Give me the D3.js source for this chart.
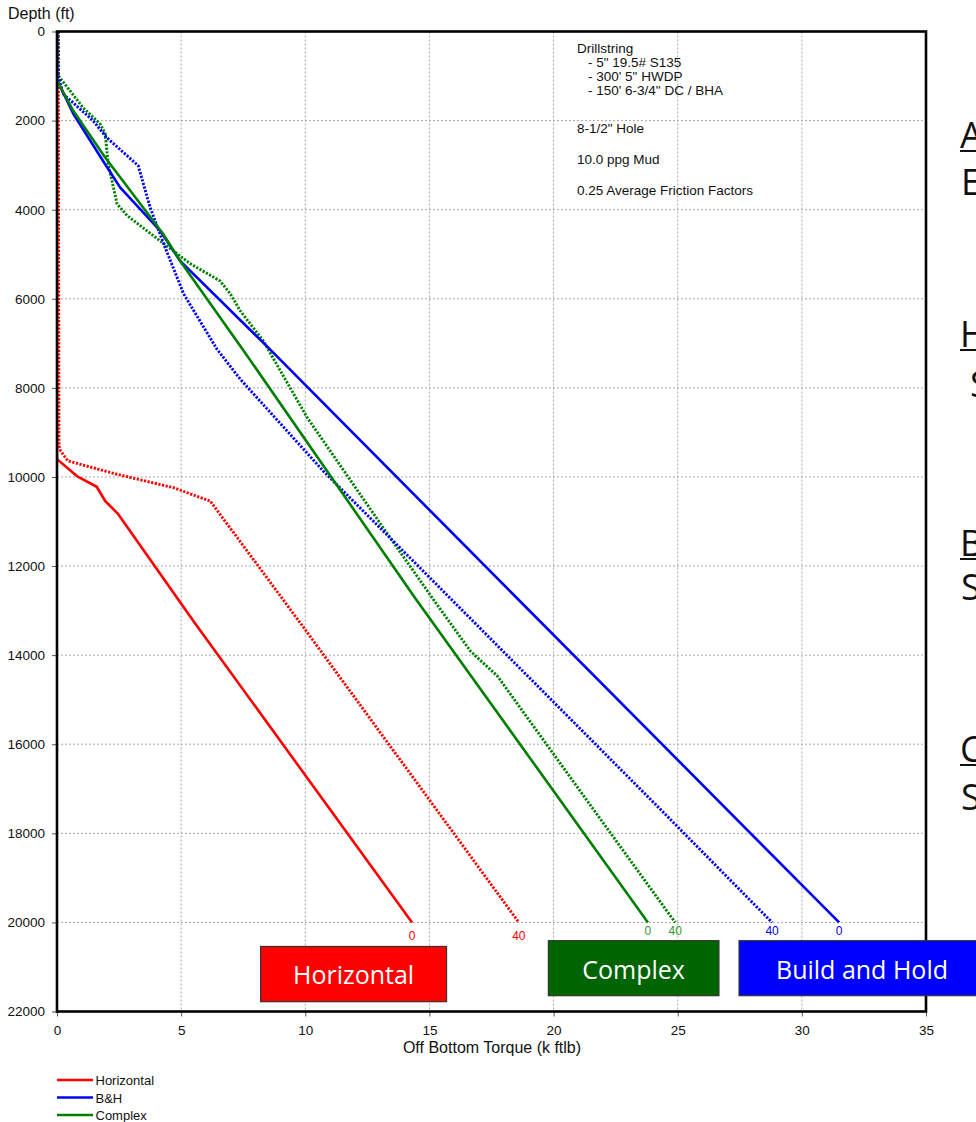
<!DOCTYPE html>
<html>
<head>
<meta charset="utf-8">
<script src="https://cdn.jsdelivr.net/npm/d3@7/dist/d3.min.js"></script>
<style>
  html, body { margin: 0; padding: 0; background: #fff; overflow: hidden; }
  svg { display: block; }
</style>
</head>
<body>
<svg id="chart" width="976" height="1122"></svg>
<script>
// ---------- DATA ----------
const xTickValues = [0, 5, 10, 15, 20, 25, 30, 35];
const yTickValues = [0, 2000, 4000, 6000, 8000, 10000, 12000, 14000, 16000, 18000, 20000, 22000];

// Horizontal well
const horizSolidDepth  = [0, 9600, 9980, 10220, 10540, 10830, 13240, 20000];
const horizSolidTorque = [0, 0, 0.8, 1.6, 1.94, 2.46, 5.5, 14.3];
const horizDotDepth    = [0, 9300, 9420, 9640, 9940, 10240, 10540, 13240, 20000];
const horizDotTorque   = [0.05, 0.08, 0.15, 0.44, 2.42, 4.68, 6.17, 9.75, 18.6];

// Build and Hold well
const bhSolidDepth  = [0, 1100, 1200, 1840, 2900, 3500, 4470, 5150, 7120, 12790, 20000];
const bhSolidTorque = [0, 0, 0.1, 0.65, 1.85, 2.54, 4.15, 4.96, 8.55, 18.65, 31.5];
const bhDotDepth    = [0, 1000, 1400, 2000, 2380, 3010, 3950, 4770, 5890, 7130, 7805, 9870, 11890, 17460, 20000];
const bhDotTorque   = [0.03, 0.05, 0.25, 1.45, 2.0, 3.27, 3.75, 4.3, 5.1, 6.44, 7.38, 10.73, 14.35, 24.3, 28.8];

// Complex well
const cxSolidDepth  = [0, 1100, 1775, 2830, 4540, 5150, 7120, 12740, 20000];
const cxSolidTorque = [0, 0, 0.65, 1.94, 4.27, 4.96, 7.46, 14.45, 23.8];
const cxDotDepth    = [0, 990, 1710, 2070, 2290, 2970, 3870, 4130, 4700, 4990, 5210, 5600, 5890, 6270, 6940, 8670, 11150, 12720, 13910, 14470, 17460, 20000];
const cxDotTorque   = [0.05, 0.05, 1.05, 1.73, 1.94, 2.06, 2.42, 2.82, 4.15, 4.84, 5.36, 6.57, 6.98, 7.38, 8.3, 10.08, 13.15, 15.12, 16.65, 17.74, 21.6, 24.9];

// End labels (friction label at end of each curve)
const endLabels = ["0", "40", "0", "40", "40", "0"];

const legendNames = ["Horizontal", "B&H", "Complex"];

const noteLines = ["Drillstring", "  - 5\" 19.5# S135", "  - 300' 5\" HWDP", "  - 150' 6-3/4\" DC / BHA",
                   "8-1/2\" Hole", "10.0 ppg Mud", "0.25 Average Friction Factors"];

const boxLabels = ["Horizontal", "Complex", "Build and Hold"];

const sideTitles = ["A", "H", "B", "C"];
const sideSecond = ["E", " S", "S", "S"];

// ---------- SETUP ----------
const svg = d3.select("#chart");
const L = 57, R = 926, T = 31.5, B = 1011.5;
const x = d3.scaleLinear().domain([0, 35]).range([L, R]);
const y = d3.scaleLinear().domain([0, 22000]).range([T, B]);

const RED = "#ff0000", BLUE = "#0000ff", GREEN = "#008000";
const chartFont = "'Liberation Sans', Arial, sans-serif";
const slideFont = "'Open Sans', 'Noto Sans', sans-serif";

svg.append("defs").append("clipPath").attr("id", "plotclip")
  .append("rect").attr("x", L).attr("y", T).attr("width", R - L).attr("height", B - T);

// grid
const grid = svg.append("g");
grid.selectAll("line.vg").data(xTickValues.filter(d => d > 0 && d < 35)).enter()
  .append("line").attr("x1", d => x(d)).attr("x2", d => x(d)).attr("y1", T).attr("y2", B)
  .attr("stroke", "#a8a8a8").attr("stroke-width", 1).attr("stroke-dasharray", "2,2");
grid.selectAll("line.hg").data(yTickValues.filter(d => d > 0 && d < 22000)).enter()
  .append("line").attr("x1", L).attr("x2", R).attr("y1", d => y(d)).attr("y2", d => y(d))
  .attr("stroke", "#a8a8a8").attr("stroke-width", 1).attr("stroke-dasharray", "2,2");

// annotation text
const noteX = 577;
const noteIndent = [0, 11, 11, 11, 0, 0, 0];
const noteBase = [53, 67, 81, 95, 133, 164, 195];
svg.append("g").selectAll("text").data(noteLines).enter().append("text")
  .attr("x", (d, i) => noteX + noteIndent[i]).attr("y", (d, i) => noteBase[i])
  .attr("font-family", chartFont).attr("font-size", 13.5).attr("fill", "#111")
  .text(d => d.trim());

// axes
const yAxis = d3.axisLeft(y).tickValues(yTickValues).tickSize(5).tickPadding(7).tickFormat(d3.format("d"));
const gy = svg.append("g").attr("transform", `translate(${L},0)`).call(yAxis);
gy.select(".domain").remove();
gy.selectAll(".tick line").attr("stroke", "#555");
gy.selectAll(".tick text").attr("font-family", chartFont).attr("font-size", 13.5).attr("fill", "#111");

const xAxis = d3.axisBottom(x).tickValues(xTickValues).tickSize(5).tickPadding(9).tickFormat(d3.format("d"));
const gx = svg.append("g").attr("transform", `translate(0,${B})`).call(xAxis);
gx.select(".domain").remove();
gx.selectAll(".tick line").attr("stroke", "#555");
gx.selectAll(".tick text").attr("font-family", chartFont).attr("font-size", 13.5).attr("fill", "#111");

svg.append("text").attr("x", 8).attr("y", 19).attr("font-family", chartFont).attr("font-size", 16)
  .attr("fill", "#111").text("Depth (ft)");
svg.append("text").attr("x", 492).attr("y", 1053).attr("text-anchor", "middle").attr("font-family", chartFont)
  .attr("font-size", 16).attr("fill", "#111").text("Off Bottom Torque (k ftlb)");

// series
const series = [
  { depth: horizSolidDepth, torque: horizSolidTorque, color: RED, dotted: false, lab: endLabels[0], ldy: 14 },
  { depth: horizDotDepth,   torque: horizDotTorque,   color: RED, dotted: true,  lab: endLabels[1], ldy: 14 },
  { depth: cxSolidDepth,    torque: cxSolidTorque,    color: GREEN, dotted: false, lab: endLabels[2], ldy: 8.5, lc: "#2e9a2e" },
  { depth: cxDotDepth,      torque: cxDotTorque,      color: GREEN, dotted: true,  lab: endLabels[3], ldy: 8.5, lc: "#2e9a2e" },
  { depth: bhDotDepth,      torque: bhDotTorque,      color: BLUE, dotted: true,  lab: endLabels[4], ldy: 8.5 },
  { depth: bhSolidDepth,    torque: bhSolidTorque,    color: BLUE, dotted: false, lab: endLabels[5], ldy: 8.5 }
];
const line = d3.line().x(d => x(d[1])).y(d => y(d[0]));
const plot = svg.append("g").attr("clip-path", "url(#plotclip)");
// draw dotted first, solids over
const order = [1, 3, 4, 0, 5, 2];
order.forEach(i => {
  const s = series[i];
  const pts = s.depth.map((d, k) => [d, s.torque[k]]);
  plot.append("path").attr("d", line(pts)).attr("fill", "none")
    .attr("stroke", s.color).attr("stroke-width", s.dotted ? 2.9 : 2.6)
    .attr("stroke-dasharray", s.dotted ? "2.2,1.5" : null)
    .attr("stroke-linejoin", "round");
});
series.forEach(s => {
  const n = s.depth.length - 1;
  svg.append("text").attr("x", x(s.torque[n])).attr("y", y(s.depth[n]) + s.ldy + 4)
    .attr("text-anchor", "middle").attr("font-family", chartFont).attr("font-size", 12)
    .attr("fill", s.lc || s.color).text(s.lab);
});

// frame
svg.append("rect").attr("x", L).attr("y", T).attr("width", R - L).attr("height", B - T)
  .attr("fill", "none").attr("stroke", "#000").attr("stroke-width", 2.6);

// legend
const legColors = [RED, BLUE, GREEN];
const lg = svg.append("g");
legendNames.forEach((nm, i) => {
  const ly = 1080 + i * 17.5;
  lg.append("line").attr("x1", 57).attr("x2", 93).attr("y1", ly).attr("y2", ly)
    .attr("stroke", legColors[i]).attr("stroke-width", 2.6);
  lg.append("text").attr("x", 95.5).attr("y", ly + 5).attr("font-family", chartFont)
    .attr("font-size", 13).attr("fill", "#111").text(nm);
});

// coloured label boxes (placed in data units)
const boxes = [
  { t: boxLabels[0], x0: 8.2,   x1: 15.69, d0: 20540, d1: 21780, fill: "#ff0000", base: 984 },
  { t: boxLabels[1], x0: 19.79, x1: 26.66, d0: 20410, d1: 21645, fill: "#006400", base: 978.5 },
  { t: boxLabels[2], x0: 27.47, x1: 37.6,  d0: 20410, d1: 21645, fill: "#0000ff", base: 978.5 }
];
boxes.forEach((b, i) => {
  svg.append("rect").attr("x", x(b.x0)).attr("y", y(b.d0)).attr("width", x(b.x1) - x(b.x0))
    .attr("height", y(b.d1) - y(b.d0)).attr("fill", b.fill).attr("stroke", "#333").attr("stroke-width", 1.2);
  const cx = i === 2 ? 862 : (x(b.x0) + x(b.x1)) / 2;
  svg.append("text").attr("x", cx).attr("y", b.base).attr("text-anchor", "middle")
    .attr("font-family", slideFont).attr("font-size", 25).attr("fill", "#fff").text(b.t);
});

// side text fragments (cut off slide text)
const sideTitleBase = [148, 347, 556, 762];
const sideSecondBase = [195, 397, 600, 810];
sideTitles.forEach((t, i) => {
  svg.append("text").attr("x", 960).attr("y", sideTitleBase[i]).attr("font-family", slideFont)
    .attr("font-size", 36).attr("fill", "#111").text(t);
  svg.append("line").attr("x1", 960).attr("x2", 976).attr("y1", sideTitleBase[i] + 3).attr("y2", sideTitleBase[i] + 3)
    .attr("stroke", "#111").attr("stroke-width", 2);
  svg.append("text").attr("x", sideSecond[i].startsWith(" ") ? 970 : 961).attr("y", sideSecondBase[i])
    .attr("font-family", slideFont).attr("font-size", 36).attr("fill", "#111").text(sideSecond[i].trim());
});
</script>
</body>
</html>
